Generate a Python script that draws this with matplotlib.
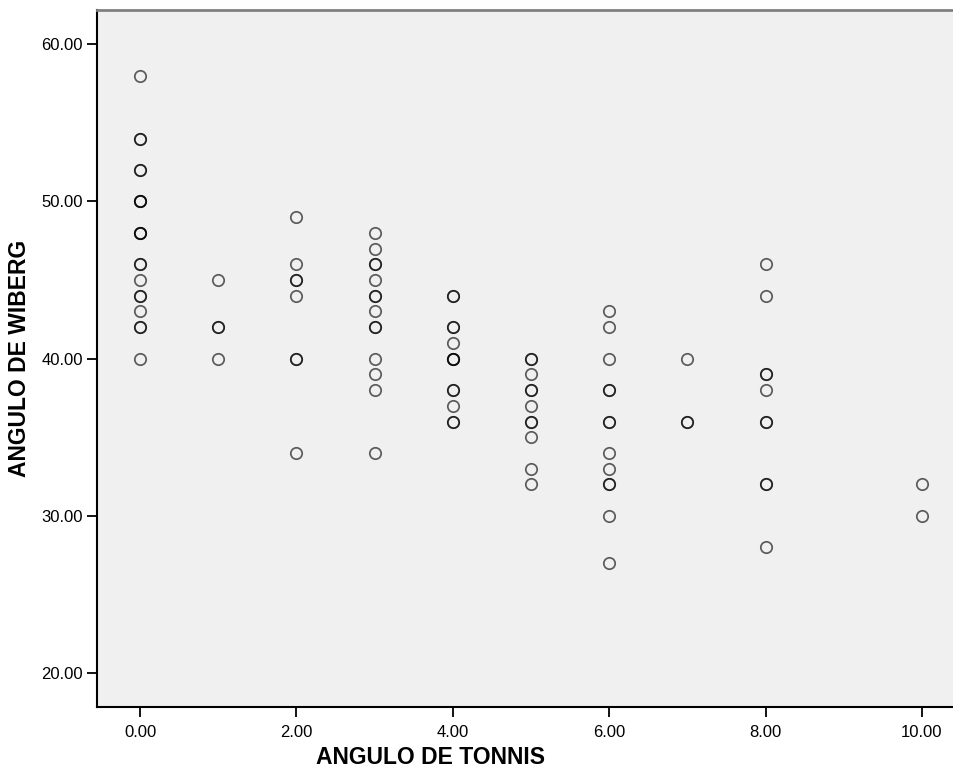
import matplotlib
matplotlib.use('Agg')
import matplotlib.pyplot as plt
import numpy as np

plt.rcParams['font.family'] = ['Liberation Sans', 'DejaVu Sans']

# data, one list per Tonnis value
# (repeated values = overlapping points, drawn darker)
tonnis_vals = [0, 1, 2, 3, 4, 5, 6, 7, 8, 10]
wiberg_cols = [
    [58, 54, 54, 52, 52, 50, 50, 50, 48, 48, 48, 46, 46, 45, 44, 44, 43, 42, 42, 40],
    [45, 42, 42, 40],
    [49, 46, 45, 45, 44, 40, 40, 34],
    [48, 47, 46, 46, 45, 44, 44, 43, 42, 42, 40, 39, 38, 34],
    [44, 44, 42, 42, 41, 40, 40, 40, 38, 38, 37, 36, 36],
    [40, 40, 39, 38, 38, 37, 36, 36, 35, 33, 32],
    [43, 42, 40, 38, 38, 36, 36, 34, 33, 32, 32, 30, 27],
    [40, 36, 36],
    [46, 44, 39, 39, 38, 36, 36, 32, 32, 28],
    [32, 30],
]
tonnis = np.repeat(tonnis_vals, [len(c) for c in wiberg_cols])
wiberg = np.concatenate(wiberg_cols)

xticks = [0, 2, 4, 6, 8, 10]
yticks = [20, 30, 40, 50, 60]

fig = plt.figure(figsize=(9.54, 7.72), dpi=100)
ax = fig.add_axes([97/954, 1 - 707/772, (954 - 97)/954, (707 - 10)/772])
ax.set_facecolor('#f0f0f0')

ax.plot(tonnis, wiberg, 'o', markersize=8.2, markerfacecolor='none',
        markeredgecolor='black', markeredgewidth=1.25, alpha=0.62)

ax.set_xlim(-0.55, 10.41)
ax.set_ylim(17.84, 62.18)
ax.set_xticks(xticks)
ax.set_yticks(yticks)
ax.set_xticklabels(['%.2f' % v for v in xticks], fontsize=12)
ax.set_yticklabels(['%.2f' % v for v in yticks], fontsize=12)
ax.tick_params(length=7, width=1.3, pad=3)
ax.tick_params(axis='x', pad=6)

for s in ['left', 'bottom']:
    ax.spines[s].set_linewidth(1.5)
ax.spines['top'].set_color('#808080')
ax.spines['top'].set_linewidth(2)
ax.spines['right'].set_visible(False)

fig.text(431/954, 1 - 758/772, 'ANGULO DE TONNIS', ha='center', va='center',
         fontsize=16.5, fontweight='bold')
fig.text(20/954, 1 - 358/772, 'ANGULO DE WIBERG', ha='center', va='center',
         rotation=90, fontsize=16.5, fontweight='bold')

plt.savefig('out.png', dpi=100)
